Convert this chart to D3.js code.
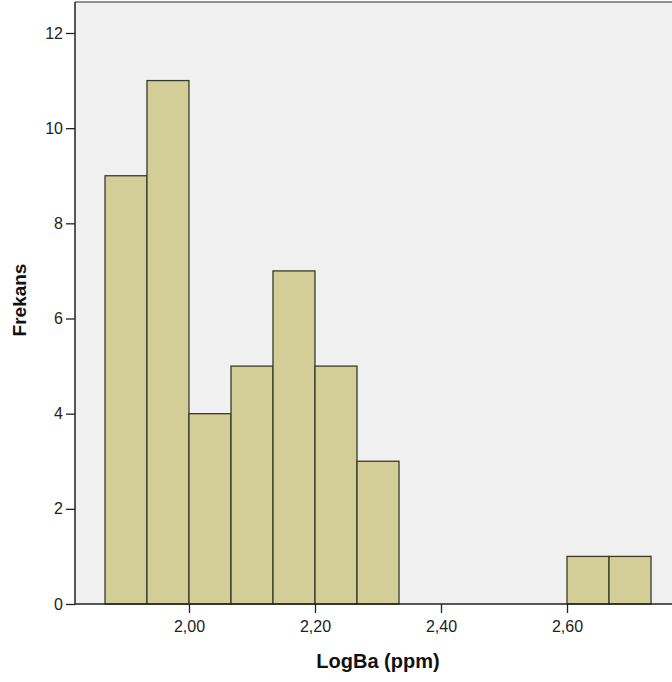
<!DOCTYPE html>
<html>
<head>
<meta charset="utf-8">
<script src="https://cdn.jsdelivr.net/npm/d3@7"></script>
<style>
  body { margin: 0; background: #fff; }
  text { font-family: "Liberation Sans", Arial, sans-serif; }
</style>
</head>
<body>
<div id="chart"></div>
<script>
// bins of width 1/15, left edge of each bin
let binStarts = [1.8667, 1.9333, 2.0, 2.0667, 2.1333, 2.2, 2.2667, 2.6, 2.6667]
let counts = [9, 11, 4, 5, 7, 5, 3, 1, 1]
let binWidth = 1 / 15
let xTicks = [2.0, 2.2, 2.4, 2.6]
let yTicks = [0, 2, 4, 6, 8, 10, 12]

const width = 672, height = 682
const plotLeft = 75, plotTop = 2, plotRight = 680, plotBottom = 604

const svg = d3.select("#chart").append("svg")
    .attr("width", width)
    .attr("height", height)

// 2.00 at 189px, 0.2 per 126px
const x = d3.scaleLinear()
    .domain([2.0, 2.2])
    .range([189, 315])

const y = d3.scaleLinear()
    .domain([0, 12])
    .range([plotBottom, 33])

// plot background
svg.append("rect")
    .attr("x", plotLeft).attr("y", plotTop)
    .attr("width", plotRight - plotLeft).attr("height", plotBottom - plotTop)
    .attr("fill", "#f0f0f0")

svg.append("line")
    .attr("x1", plotLeft).attr("x2", plotRight)
    .attr("y1", plotTop).attr("y2", plotTop)
    .attr("stroke", "#6e6e6e").attr("stroke-width", 1.5)

// bars
svg.append("g").selectAll("rect")
    .data(binStarts.map((b, i) => ({ x0: b, x1: b + binWidth, n: counts[i] })))
    .join("rect")
    .attr("x", d => x(d.x0))
    .attr("width", d => x(d.x1) - x(d.x0))
    .attr("y", d => y(d.n))
    .attr("height", d => y(0) - y(d.n))
    .attr("fill", "#d3cd98")
    .attr("stroke", "#3a3a2a")
    .attr("stroke-width", 1.3)

// axes
const yAxis = svg.append("g")
    .attr("transform", `translate(${plotLeft},0)`)
    .call(d3.axisLeft(y).tickValues(yTicks).tickSize(9).tickPadding(3).tickFormat(d3.format("d")))
yAxis.select(".domain").attr("d", `M0,${plotTop}V${plotBottom}`).attr("stroke", "#222").attr("stroke-width", 1.5)

const xAxis = svg.append("g")
    .attr("transform", `translate(0,${plotBottom})`)
    .call(d3.axisBottom(x).tickValues(xTicks).tickSize(9).tickPadding(8)
        .tickFormat(d => d3.format(".2f")(d).replace(".", ",")))
xAxis.select(".domain").attr("d", `M${plotLeft},0H${plotRight}`).attr("stroke", "#222").attr("stroke-width", 1.5)

svg.selectAll(".tick line").attr("stroke", "#222").attr("stroke-width", 1.3)
svg.selectAll(".tick text").attr("fill", "#222").style("font-size", "16px")

// titles
svg.append("text")
    .attr("x", 378).attr("y", 668)
    .attr("text-anchor", "middle")
    .style("font-size", "20px").style("font-weight", "bold")
    .attr("fill", "#111")
    .text("LogBa (ppm)")

svg.append("text")
    .attr("transform", "translate(26,300) rotate(-90)")
    .attr("text-anchor", "middle")
    .style("font-size", "19px").style("font-weight", "bold")
    .attr("fill", "#111")
    .text("Frekans")
</script>
</body>
</html>
